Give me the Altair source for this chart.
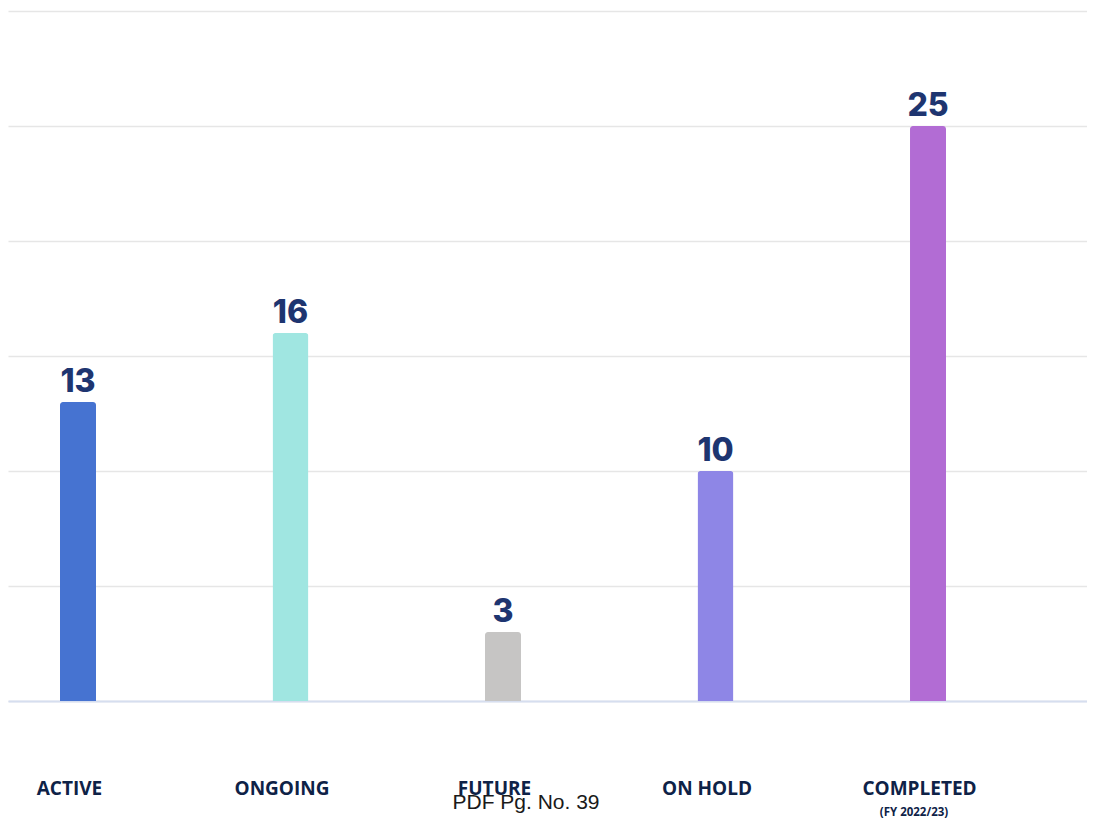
import altair as alt
import pandas as pd

categories = ["ACTIVE", "ONGOING", "FUTURE", "ON HOLD", "COMPLETED"]
values = [13, 16, 3, 10, 25]
colors = ["#4673d1", "#a0e6e1", "#c6c5c4", "#8e86e6", "#b26cd4"]
sub_labels = ["", "", "", "", "(FY 2022/23)"]
footer = "PDF Pg. No. 39"

df = pd.DataFrame({"cat": categories, "val": values, "sub": sub_labels})

W, H = 1079, 690

x_scale = alt.Scale(type="point", padding=0.5388, align=0.3057)

x_enc = alt.X(
    "cat:N",
    sort=categories,
    scale=x_scale,
    axis=alt.Axis(
        title=None,
        domain=True,
        domainColor="#d6deef",
        domainWidth=2,
        ticks=False,
        grid=False,
        labelAngle=0,
        labelFont="Open Sans",
        labelFontSize=19,
        labelFontWeight="bold",
        labelColor="#0e2247",
        labelBaseline="alphabetic",
        labelPadding=93,
        labelOffset=-9,
    ),
)

y_enc = alt.Y(
    "val:Q",
    scale=alt.Scale(domain=[0, 30], nice=False),
    axis=alt.Axis(
        title=None,
        values=[0, 5, 10, 15, 20, 25, 30],
        labels=False,
        ticks=False,
        domain=False,
        grid=True,
        gridColor="#e6e6e6",
        gridWidth=1.5,
    ),
)

bars = alt.Chart(df).mark_bar(
    size=36, cornerRadiusTopLeft=3, cornerRadiusTopRight=3
).encode(
    x=x_enc,
    y=y_enc,
    color=alt.Color("cat:N", sort=categories,
                    scale=alt.Scale(domain=categories, range=colors), legend=None),
)

nums = alt.Chart(df).mark_text(
    font="Inter", fontSize=32, fontWeight=800, color="#1e3570",
    baseline="alphabetic", dy=-10,
).encode(
    x=alt.X("cat:N", sort=categories),
    y=alt.Y("val:Q"),
    text="val:Q",
)

subs = alt.Chart(df).transform_filter("datum.sub != ''").mark_text(
    font="Open Sans", fontSize=11.5, fontWeight="bold", color="#0e2247",
    baseline="alphabetic", dx=-14,
).encode(
    x=alt.X("cat:N", sort=categories),
    y=alt.value(H + 115),
    text="sub:N",
)

foot = alt.Chart(pd.DataFrame({"t": [footer]})).mark_text(
    font="Liberation Sans", fontSize=21, color="#1a1a1a", baseline="alphabetic",
).encode(
    x=alt.value(518),
    y=alt.value(H + 108),
    text="t:N",
)

chart = alt.layer(bars, nums, subs, foot).properties(
    width=W, height=H,
    autosize=alt.AutoSizeParams(type="none"),
    padding={"left": 0, "top": 3, "right": 0, "bottom": 120},
).configure(background="white").configure_view(stroke=None)

chart.save("out.html", embed_options={"renderer": "svg", "actions": False})
